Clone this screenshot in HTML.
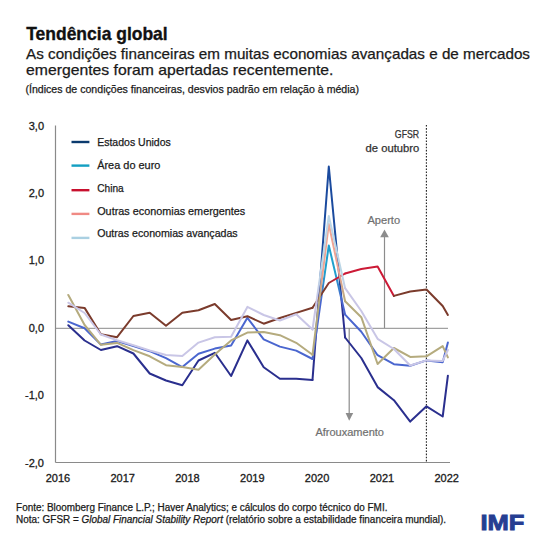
<!DOCTYPE html>
<html><head><meta charset="utf-8">
<style>
html,body{margin:0;padding:0;background:#fff;}
svg{display:block;}
text{font-family:"Liberation Sans", sans-serif;}
.t{stroke:#1a1a1a;stroke-width:0.3px;}
</style></head>
<body>
<svg width="550" height="550" viewBox="0 0 550 550">
<defs><linearGradient id="gUS" gradientUnits="userSpaceOnUse" x1="0" y1="302" x2="0" y2="272"><stop offset="0" stop-color="#2a2f8e"/><stop offset="1" stop-color="#1a4a9e"/></linearGradient>
<linearGradient id="gEU" gradientUnits="userSpaceOnUse" x1="0" y1="302" x2="0" y2="272"><stop offset="0" stop-color="#4a66cf"/><stop offset="1" stop-color="#20a0cc"/></linearGradient>
<linearGradient id="gEM" gradientUnits="userSpaceOnUse" x1="0" y1="302" x2="0" y2="272"><stop offset="0" stop-color="#b5ab7e"/><stop offset="1" stop-color="#eea494"/></linearGradient>
<linearGradient id="gAD" gradientUnits="userSpaceOnUse" x1="0" y1="302" x2="0" y2="272"><stop offset="0" stop-color="#c9c6e6"/><stop offset="1" stop-color="#bcd6e6"/></linearGradient>
<linearGradient id="gCN" gradientUnits="userSpaceOnUse" x1="326" y1="0" x2="336" y2="0"><stop offset="0" stop-color="#7b3b2c"/><stop offset="1" stop-color="#cc1a36"/></linearGradient></defs>
<rect width="550" height="550" fill="#fff"/>
<text x="26.2" y="40.3" font-size="18.4" font-weight="bold" fill="#111" stroke="#111" stroke-width="0.35" textLength="141.5" lengthAdjust="spacingAndGlyphs">Tendência global</text>
<text x="26" y="59.2" font-size="14.4" fill="#1a1a1a" stroke="#1a1a1a" stroke-width="0.25" textLength="504" lengthAdjust="spacingAndGlyphs">As condições financeiras em muitas economias avançadas e de mercados</text>
<text x="26" y="75.2" font-size="14.4" fill="#1a1a1a" stroke="#1a1a1a" stroke-width="0.25" textLength="307.5" lengthAdjust="spacingAndGlyphs">emergentes foram apertadas recentemente.</text>
<text x="25.5" y="92.5" font-size="10.8" fill="#1a1a1a" stroke="#1a1a1a" stroke-width="0.25" textLength="333.5" lengthAdjust="spacingAndGlyphs">(Índices de condições financeiras, desvios padrão em relação à média)</text>

<!-- axes -->
<line x1="55.5" y1="125.5" x2="55.5" y2="462.5" stroke="#8a8a8a" stroke-width="1.2"/>
<line x1="55.5" y1="462.5" x2="450" y2="462.5" stroke="#8a8a8a" stroke-width="1.2"/>
<line x1="55.5" y1="328.3" x2="448" y2="328.3" stroke="#8a8a8a" stroke-width="1"/>

<g font-size="11" fill="#1a1a1a" stroke="#1a1a1a" stroke-width="0.3" text-anchor="end">
<text x="44" y="129.5">3,0</text>
<text x="44" y="196.7">2,0</text>
<text x="44" y="264">1,0</text>
<text x="44" y="331.8">0,0</text>
<text x="44" y="399">-1,0</text>
<text x="44" y="466.8">-2,0</text>
</g>
<g font-size="11" fill="#1a1a1a" stroke="#1a1a1a" stroke-width="0.3" text-anchor="middle">
<text x="57.9" y="482">2016</text>
<text x="122.7" y="482">2017</text>
<text x="187.5" y="482">2018</text>
<text x="252.3" y="482">2019</text>
<text x="317.1" y="482">2020</text>
<text x="381.9" y="482">2021</text>
<text x="446.7" y="482">2022</text>
</g>

<!-- annotations -->
<line x1="426.4" y1="125" x2="426.4" y2="462" stroke="#222" stroke-width="1.1" stroke-dasharray="1.6 1.5"/>
<text x="394.8" y="137.7" font-size="10.2" fill="#333" stroke="#333" stroke-width="0.25" textLength="24.4" lengthAdjust="spacingAndGlyphs">GFSR</text>
<text x="365.6" y="151.8" font-size="10.2" fill="#333" stroke="#333" stroke-width="0.25" textLength="53.6" lengthAdjust="spacingAndGlyphs">de outubro</text>
<line x1="384.5" y1="328" x2="384.5" y2="236" stroke="#8c8c8c" stroke-width="1.2"/>
<polygon points="380.2,237.2 388.8,237.2 384.5,229.5" fill="#8c8c8c"/>
<text x="367.4" y="223.9" font-size="10.3" fill="#707070" stroke="#707070" stroke-width="0.2" textLength="32.7" lengthAdjust="spacingAndGlyphs">Aperto</text>
<line x1="349.2" y1="328" x2="349.2" y2="414" stroke="#8c8c8c" stroke-width="1.2"/>
<polygon points="345.6,413 353.2,413 349.2,420.8" fill="#8c8c8c"/>
<text x="315.4" y="436" font-size="10.3" fill="#707070" stroke="#707070" stroke-width="0.2" textLength="68.6" lengthAdjust="spacingAndGlyphs">Afrouxamento</text>

<!-- legend -->
<g stroke-width="2.4">
<line x1="71.5" y1="142" x2="89.4" y2="142" stroke="#0b3a6e"/>
<line x1="71.5" y1="165.6" x2="89.4" y2="165.6" stroke="#139fc2"/>
<line x1="71.5" y1="190.2" x2="89.4" y2="190.2" stroke="#c8102e"/>
<line x1="71.5" y1="213.9" x2="89.4" y2="213.9" stroke="#f08a84"/>
<line x1="71.5" y1="237.9" x2="89.4" y2="237.9" stroke="#aad0e2"/>
</g>
<g font-size="11.2" fill="#1a1a1a" stroke="#1a1a1a" stroke-width="0.25">
<text x="97.2" y="146.4" textLength="73.6" lengthAdjust="spacingAndGlyphs">Estados Unidos</text>
<text x="97.2" y="168.8" textLength="63.2" lengthAdjust="spacingAndGlyphs">Área do euro</text>
<text x="97.2" y="191.6" textLength="26.5" lengthAdjust="spacingAndGlyphs">China</text>
<text x="97.2" y="214.5" textLength="148.1" lengthAdjust="spacingAndGlyphs">Outras economias emergentes</text>
<text x="97.2" y="237" textLength="140.5" lengthAdjust="spacingAndGlyphs">Outras economias avançadas</text>
</g>

<!-- series -->
<g fill="none" stroke-width="2" stroke-linejoin="round" stroke-linecap="round">
<polyline points="68.3,325.2 84.6,340.5 100.9,350.0 117.1,346.2 133.4,353.5 149.7,373.5 166.0,380.5 182.3,385.2 198.5,360.5 214.8,352.8 231.1,376.0 247.4,340.4 263.7,367.2 279.9,378.7 296.2,378.7 312.5,379.9" stroke="#2a2f8e"/>
<polyline points="312.5,379.9 328.8,166.5 345.1,337.5" stroke="url(#gUS)"/>
<polyline points="345.1,337.5 361.3,358.0 377.6,387.1 393.9,400.2 410.2,421.6 426.5,406.3 442.7,416.5 447.9,375.7" stroke="#2a2f8e"/>
<polyline points="68.3,321.6 84.6,328.2 100.9,344.6 117.1,341.0 133.4,346.0 149.7,351.2 166.0,358.2 182.3,367.1 198.5,353.7 214.8,348.6 231.1,345.5 247.4,317.8 263.7,339.4 279.9,346.6 296.2,350.6 312.5,359.0" stroke="#4a66cf"/>
<polyline points="312.5,359.0 328.8,245.5 345.1,314.6" stroke="url(#gEU)"/>
<polyline points="345.1,314.6 361.3,331.8 377.6,355.2 393.9,364.2 410.2,365.8 426.5,360.4 442.7,362.2 447.9,342.5" stroke="#4a66cf"/>
<polyline points="68.3,306.3 84.6,307.9 100.9,334.2 117.1,337.2 133.4,316.0 149.7,312.7 166.0,325.8 182.3,312.7 198.5,310.2 214.8,304.0 231.1,320.0 247.4,316.2 263.7,323.7 279.9,318.0 296.2,312.9 312.5,307.8" stroke="#7b3b2c"/>
<polyline points="312.5,307.8 328.8,283.0 345.1,273.5" stroke="url(#gCN)"/>
<polyline points="345.1,273.5 361.3,269.0 377.6,266.5 393.9,295.9" stroke="#cc1a36"/>
<polyline points="393.9,295.9 410.2,291.5 426.5,289.5 442.7,306.0 447.9,315.0" stroke="#7b3b2c"/>
<polyline points="68.3,295.0 84.6,325.0 100.9,344.8 117.1,342.9 133.4,350.1 149.7,356.3 166.0,365.2 182.3,367.1 198.5,369.8 214.8,354.4 231.1,340.4 247.4,332.6 263.7,332.0 279.9,335.2 296.2,342.8 312.5,354.8" stroke="#b5ab7e"/>
<polyline points="312.5,354.8 328.8,224.0 345.1,301.2" stroke="url(#gEM)"/>
<polyline points="345.1,301.2 361.3,317.2 377.6,364.0 393.9,348.0 410.2,356.9 426.5,356.3 442.7,346.1 447.9,357.4" stroke="#b5ab7e"/>
<polyline points="68.3,302.7 84.6,313.0 100.9,334.5 117.1,340.2 133.4,345.3 149.7,350.5 166.0,355.0 182.3,355.9 198.5,342.6 214.8,337.3 231.1,336.8 247.4,306.9 263.7,315.0 279.9,320.5 296.2,314.2 312.5,329.5" stroke="#c9c6e6"/>
<polyline points="312.5,329.5 328.8,216.0 345.1,288.2" stroke="url(#gAD)"/>
<polyline points="345.1,288.2 361.3,311.0 377.6,338.8 393.9,349.0 410.2,365.5 426.5,360.4 442.7,360.9 447.9,350.0" stroke="#c9c6e6"/>
</g>

<!-- footer -->
<text x="16.1" y="511.4" font-size="10" fill="#1a1a1a" stroke="#1a1a1a" stroke-width="0.25" textLength="371.3" lengthAdjust="spacingAndGlyphs">Fonte: Bloomberg Finance L.P.; Haver Analytics; e cálculos do corpo técnico do FMI.</text>
<text x="16.1" y="523.4" font-size="10" fill="#1a1a1a" stroke="#1a1a1a" stroke-width="0.25" textLength="430" lengthAdjust="spacingAndGlyphs">Nota: GFSR = <tspan font-style="italic">Global Financial Stability Report</tspan> (relatório sobre a estabilidade financeira mundial).</text>
<text x="480.4" y="530.05" font-size="22.2" font-weight="bold" fill="#263e92" stroke="#263e92" stroke-width="0.9" textLength="44" lengthAdjust="spacingAndGlyphs">IMF</text>
</svg>
</body></html>
